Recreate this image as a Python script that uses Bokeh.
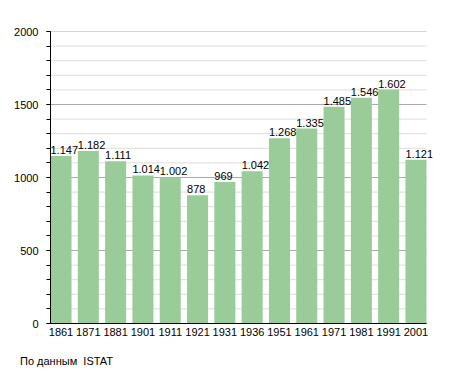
from bokeh.plotting import figure
from bokeh.models import ColumnDataSource, FixedTicker, Range1d, Div
from bokeh.layouts import column
from bokeh.embed import file_html
from bokeh.resources import INLINE
from bokeh.core.properties import value

years = ["1861", "1871", "1881", "1901", "1911", "1921", "1931", "1936",
         "1951", "1961", "1971", "1981", "1991", "2001"]
population = [1147, 1182, 1111, 1014, 1002, 878, 969, 1042,
              1268, 1335, 1485, 1546, 1602, 1121]
y_ticks = [0, 500, 1000, 1500, 2000]
y_minor = list(range(100, 2000, 100))
y_minor = [v for v in y_minor if v not in y_ticks]
caption = "По данным&nbsp; ISTAT"

BAR_W = 0.77
xs = list(range(len(years)))
labels = [f"{v:,}".replace(",", ".") for v in population]

src = ColumnDataSource(dict(
    x=xs,
    xl=[x - BAR_W / 2 for x in xs],
    top=population,
    lab=labels,
))

x_lo = -BAR_W / 2
x_hi = len(years) - 1 + BAR_W / 2
x_extra = 0.22  # room for the last value label

W, H = 447, 345
p = figure(width=W, height=H, output_backend="svg", toolbar_location=None,
           x_range=Range1d(x_lo, x_hi + x_extra),
           y_range=Range1d(0, 2000),
           min_border_left=50, min_border_right=W - 432,
           min_border_top=31, min_border_bottom=H - 323)
p.outline_line_color = None
p.background_fill_color = "white"
p.border_fill_color = "white"

# grid lines (span only the bar area)
p.segment(x0=[x_lo] * len(y_minor), x1=[x_hi] * len(y_minor),
          y0=y_minor, y1=y_minor, line_color="#dddddd", line_width=1)
p.segment(x0=[x_lo] * len(y_ticks), x1=[x_hi] * len(y_ticks),
          y0=y_ticks, y1=y_ticks, line_color="#aaaaaa", line_width=1)

p.vbar(x="x", top="top", width=BAR_W, bottom=0, source=src,
       fill_color="#99cc99", line_color=None)
p.text(x="xl", y="top", text="lab", source=src, text_align="left",
       text_baseline="bottom", y_offset=-2, text_font=value("Liberation Sans"),
       text_font_size="11px", text_color="black")

# y axis
yax = p.yaxis[0]
yax.ticker = FixedTicker(ticks=y_ticks,
                         minor_ticks=list(range(0, 2001, 100)))
yax.axis_line_color = "black"
yax.major_tick_out = 4
yax.major_tick_in = 0
yax.minor_tick_out = 4
yax.minor_tick_in = 0
yax.major_tick_line_color = "black"
yax.minor_tick_line_color = "black"
yax.major_label_standoff = 8
yax.major_label_text_font = "Liberation Sans"
yax.major_label_text_font_size = "11px"
yax.major_label_text_color = "black"

# x axis
xax = p.xaxis[0]
xax.ticker = FixedTicker(ticks=xs)
xax.bounds = (x_lo, x_hi)
xax.major_label_overrides = {i: y for i, y in enumerate(years)}
xax.axis_line_color = "black"
xax.major_tick_out = 0
xax.major_tick_in = 0
xax.minor_tick_line_color = None
xax.major_label_standoff = 4
xax.major_label_text_font = "Liberation Sans"
xax.major_label_text_font_size = "11px"
xax.major_label_text_color = "black"

p.xgrid.grid_line_color = None
p.ygrid.grid_line_color = None

note = Div(text=caption, width=300, height=16, margin=(10, 0, 0, 20),
           styles={"font-family": "Liberation Sans", "font-size": "11px",
                   "color": "black", "line-height": "13px"})

layout = column(p, note, spacing=0)
open("out.html", "w").write(file_html(layout, INLINE))
